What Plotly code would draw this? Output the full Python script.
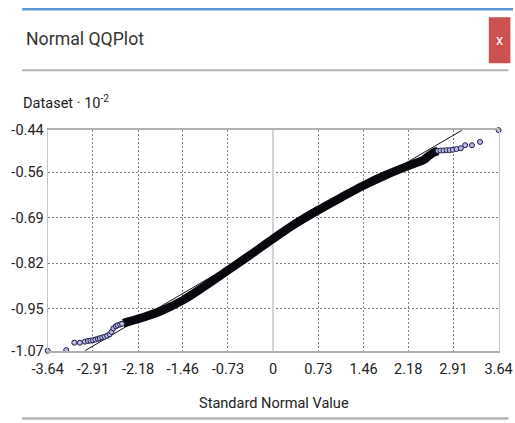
import plotly.graph_objects as go

# ---- data (y values are Dataset x 10^-2) ----
lower_tail_x = [-3.64, -3.34, -3.21, -3.12, -3.04, -2.99, -2.95, -2.91, -2.87, -2.83, -2.80, -2.76, -2.72, -2.68, -2.64, -2.61, -2.58, -2.54, -2.51, -2.47, -2.44]
lower_tail_y = [-1.070, -1.068, -1.047, -1.047, -1.044, -1.042, -1.041, -1.040, -1.038, -1.036, -1.034, -1.032, -1.030, -1.027, -1.023, -1.016, -1.006, -1.000, -0.997, -0.995, -0.993]
band_x = [-2.42, -2.18, -1.82, -1.46, -1.10, -0.73, -0.36, 0.0, 0.36, 0.73, 1.10, 1.46, 1.82, 2.18, 2.43, 2.50, 2.60, 2.66]
band_y = [-0.991, -0.979, -0.957, -0.926, -0.885, -0.840, -0.795, -0.750, -0.707, -0.668, -0.632, -0.598, -0.568, -0.542, -0.525, -0.515, -0.503, -0.499]
upper_tail_x = [2.66, 2.70, 2.75, 2.80, 2.85, 2.90, 2.96, 3.03, 3.10, 3.21, 3.34, 3.64]
upper_tail_y = [-0.499, -0.498, -0.498, -0.497, -0.497, -0.496, -0.494, -0.4915, -0.483, -0.483, -0.4735, -0.440]
ref_x = [-3.04, 3.05]
ref_y = [-1.070, -0.440]

x_tick_labels = ["-3.64", "-2.91", "-2.18", "-1.46", "-0.73", "0", "0.73", "1.46", "2.18", "2.91", "3.64"]
y_tick_labels = ["-1.07", "-0.95", "-0.82", "-0.69", "-0.56", "-0.44"]

# observed mapping of figure pixels to the final picture: pic = A + S * fig
A, S = 7.7, 0.962
W, H = 527, 432
FONT = "Roboto, Liberation Sans, sans-serif"

def fx(t):
    return (t - A) / S

def px(t):
    return fx(t) / W

def py(t):
    return 1 - fx(t) / H

def fs(size):
    return size / S

marker_style = dict(symbol="circle", size=5, color="#bcbce6",
                    line=dict(color="#1c1c48", width=1))

fig = go.Figure()
fig.add_trace(go.Scatter(x=ref_x, y=ref_y, mode="lines",
                         line=dict(color="#101010", width=1), hoverinfo="skip"))
fig.add_trace(go.Scatter(x=band_x, y=band_y, mode="lines",
                         line=dict(color="#08080f", width=8.5, shape="spline", smoothing=0.8),
                         hoverinfo="skip"))
fig.add_trace(go.Scatter(x=lower_tail_x, y=lower_tail_y, mode="markers",
                         marker=marker_style, cliponaxis=False))
fig.add_trace(go.Scatter(x=upper_tail_x, y=upper_tail_y, mode="markers",
                         marker=marker_style, cliponaxis=False))

x_vals = [float(t) for t in x_tick_labels]
y_vals = [float(t) for t in y_tick_labels]

fig.update_xaxes(
    domain=[px(40), px(500)], range=[-3.6401, 3.6401],
    tickmode="array", tickvals=x_vals, ticktext=x_tick_labels,
    showgrid=True, gridcolor="#808080", griddash="2px,2px", gridwidth=1,
    zeroline=True, zerolinecolor="#d4d4d4", zerolinewidth=2,
    showline=True, linecolor="#b0b0b0", linewidth=2, mirror=True,
    ticks="outside", ticklen=4, tickcolor="rgba(0,0,0,0)",
    tickfont=dict(family=FONT, size=fs(14), color="#222222"),
)
fig.update_yaxes(
    domain=[py(351), py(130)], range=[-1.0701, -0.4399],
    tickmode="array", tickvals=y_vals, ticktext=y_tick_labels,
    showgrid=True, gridcolor="#808080", griddash="2px,2px", gridwidth=1,
    zeroline=False,
    showline=True, linecolor="#c4c4c4", linewidth=1, mirror=True,
    ticks="", ticklen=0,
    tickfont=dict(family=FONT, size=fs(14), color="#222222"),
)

shapes = [
    dict(type="rect", xref="paper", yref="paper", x0=px(14), x1=1, y0=1 - 2.5 / H, y1=1,
         fillcolor="#5b9bd5", line=dict(width=0), layer="above"),
    dict(type="rect", xref="paper", yref="paper", x0=px(490), x1=px(512), y0=py(63), y1=py(17),
         fillcolor="#cc5150", line=dict(width=0)),
    dict(type="rect", xref="paper", yref="paper", x0=px(14), x1=px(510), y0=py(71), y1=py(69),
         fillcolor="#b3b3b3", line=dict(width=0)),
    dict(type="rect", xref="paper", yref="paper", x0=px(14), x1=px(510), y0=py(420), y1=py(417.5),
         fillcolor="#b3b3b3", line=dict(width=0)),
]

annotations = [
    dict(text="Normal QQPlot", xref="paper", yref="paper", x=px(16), y=py(39),
         xanchor="left", yanchor="middle", showarrow=False,
         font=dict(family=FONT, size=fs(17), color="#333333")),
    dict(text="x", xref="paper", yref="paper", x=px(501), y=py(40),
         xanchor="center", yanchor="middle", showarrow=False,
         font=dict(family=FONT, size=fs(14), color="#ffffff")),
    dict(text="Dataset · 10<sup>-2</sup>", xref="paper", yref="paper", x=px(13), y=py(102),
         xanchor="left", yanchor="middle", showarrow=False,
         font=dict(family=FONT, size=fs(14), color="#222222")),
    dict(text="Standard Normal Value", xref="paper", yref="paper", x=px(271), y=py(404),
         xanchor="center", yanchor="middle", showarrow=False,
         font=dict(family=FONT, size=fs(14), color="#222222")),
]

fig.update_layout(
    width=W, height=H, margin=dict(l=0, r=0, t=0, b=0),
    paper_bgcolor="white", plot_bgcolor="white",
    showlegend=False, shapes=shapes, annotations=annotations,
)

fig.write_html("out.html")
